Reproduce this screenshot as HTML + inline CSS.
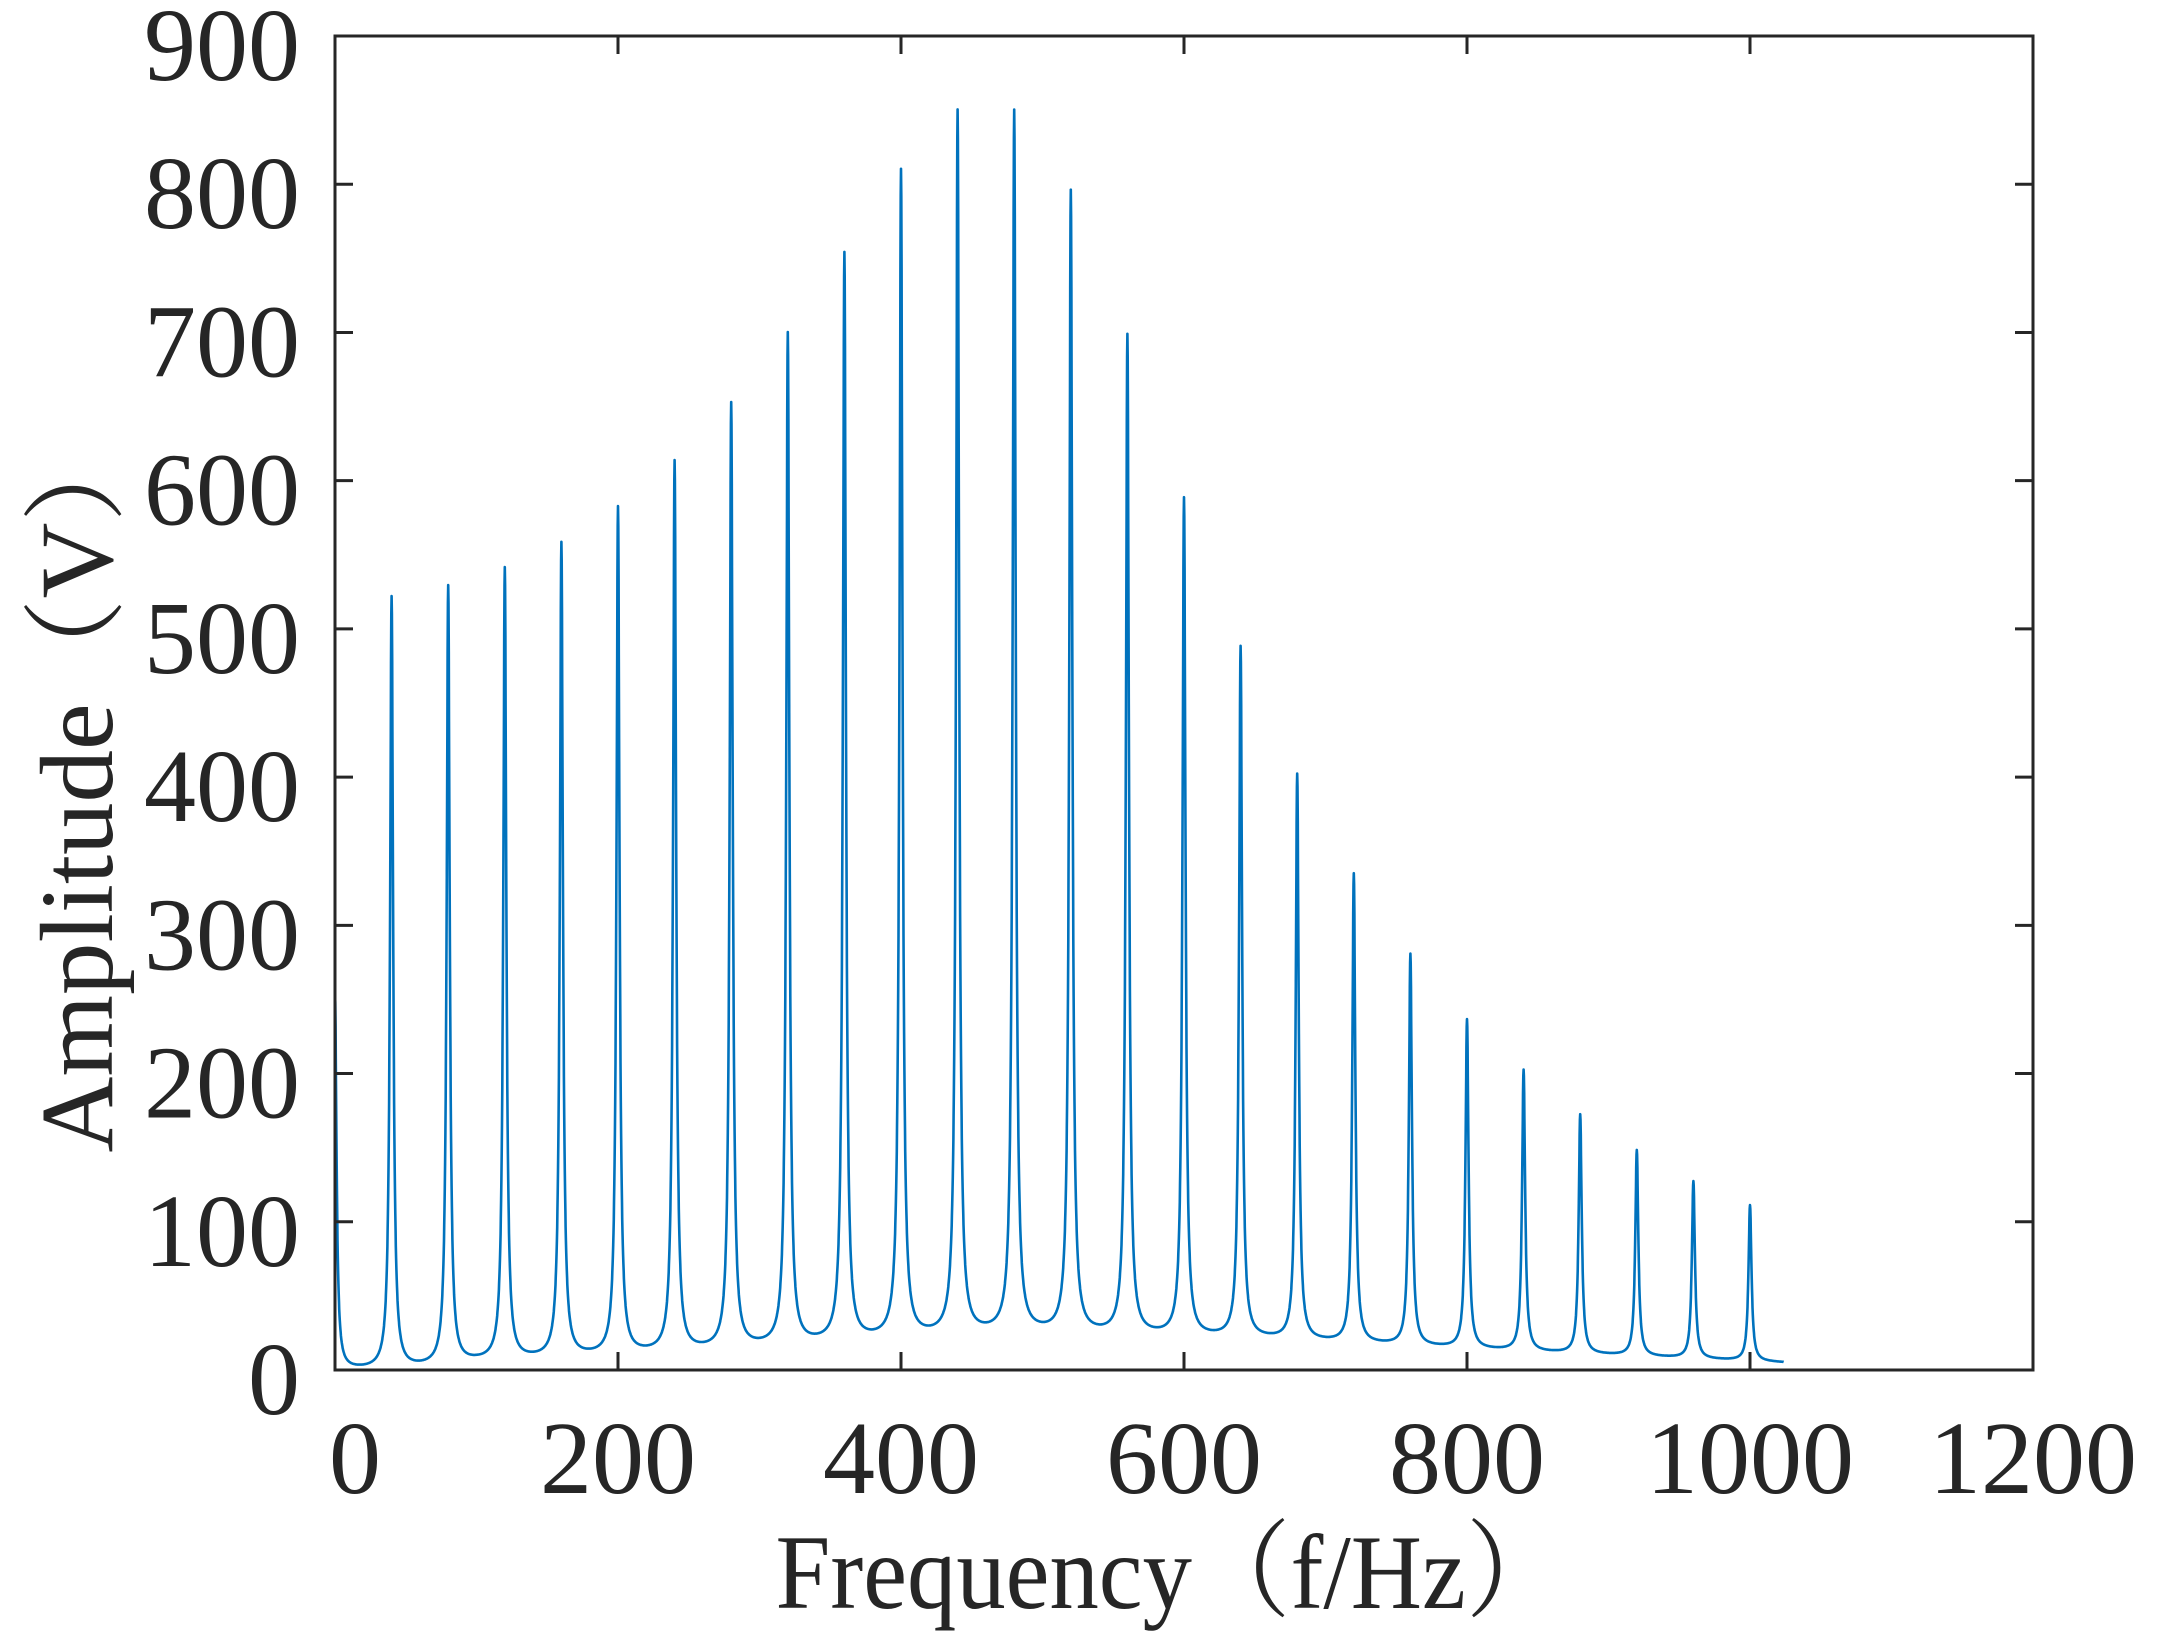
<!DOCTYPE html>
<html><head><meta charset="utf-8"><style>body{margin:0;background:#fff}svg{display:block}</style></head>
<body>
<svg id="s" width="2159" height="1647" xmlns="http://www.w3.org/2000/svg" font-family="Liberation Serif, 'Noto Serif CJK SC', serif" fill="#262626">
<path id="line" d="" fill="none" stroke="#0072BD" stroke-width="2.6" stroke-linejoin="round"/>
<g id="ax" stroke="#262626" stroke-width="3" fill="none"></g>
<g id="tl" font-size="104"></g>
<text x="1170" y="1608" font-size="106" text-anchor="middle" textLength="789" lengthAdjust="spacingAndGlyphs">Frequency（f/Hz）</text>
<text transform="translate(112,785) rotate(-90)" font-size="104" text-anchor="middle" textLength="735" lengthAdjust="spacingAndGlyphs">Amplitude（V）</text>
</svg>
<script>
var L=335,R=2033,T=36,B=1370;
function X(f){return L+(f/1200)*(R-L);}
function Y(v){return B-(v/900)*(B-T);}
var amps=[255,523,530,542,559,583,614,653,700,754,810,850,850,796,699,589,489,403,336,282,238,204,174,150,129,113];
var bp=[[0,0],[40,0],[70,2],[100,5],[250,12],[400,21],[480,25],[650,21],[850,12],[1024,5]];
function base(f){for(var i=0;i<bp.length-1;i++){if(f<=bp[i+1][0]){var t=(f-bp[i][0])/(bp[i+1][0]-bp[i][0]);return bp[i][1]+t*(bp[i+1][1]-bp[i][1]);}}return 5;}
var w=1.3,d=[];
for(var f=0;f<=1024;f+=0.2){var y=base(f);for(var k=0;k<amps.length;k++){var dd=Math.abs(f-40*k);var t=dd/w;var c=(amps[k]-base(40*k)-2)/(1+t*t);y+=c;}
d.push((d.length?'L':'M')+X(f).toFixed(1)+' '+Y(y).toFixed(1));}
document.getElementById('line').setAttribute('d',d.join(''));
var ax=document.getElementById('ax'),tl=document.getElementById('tl'),s='';
s+='<rect x="'+L+'" y="'+T+'" width="'+(R-L)+'" height="'+(B-T)+'"/>';
var tk=18,lab='';
for(var v=0;v<=900;v+=100){var y=Y(v);s+='<path d="M'+L+' '+y+'h'+tk+'M'+R+' '+y+'h-'+tk+'"/>';
lab+='<text x="300" y="'+(y+44)+'" text-anchor="end">'+v+'</text>';}
for(var f=0;f<=1200;f+=200){var x=X(f);s+='<path d="M'+x+' '+B+'v-'+tk+'M'+x+' '+T+'v'+tk+'"/>';
lab+='<text x="'+(f==0?355:x)+'" y="1493" text-anchor="middle">'+f+'</text>';}
ax.innerHTML=s;tl.innerHTML=lab;
</script>
</body></html>
